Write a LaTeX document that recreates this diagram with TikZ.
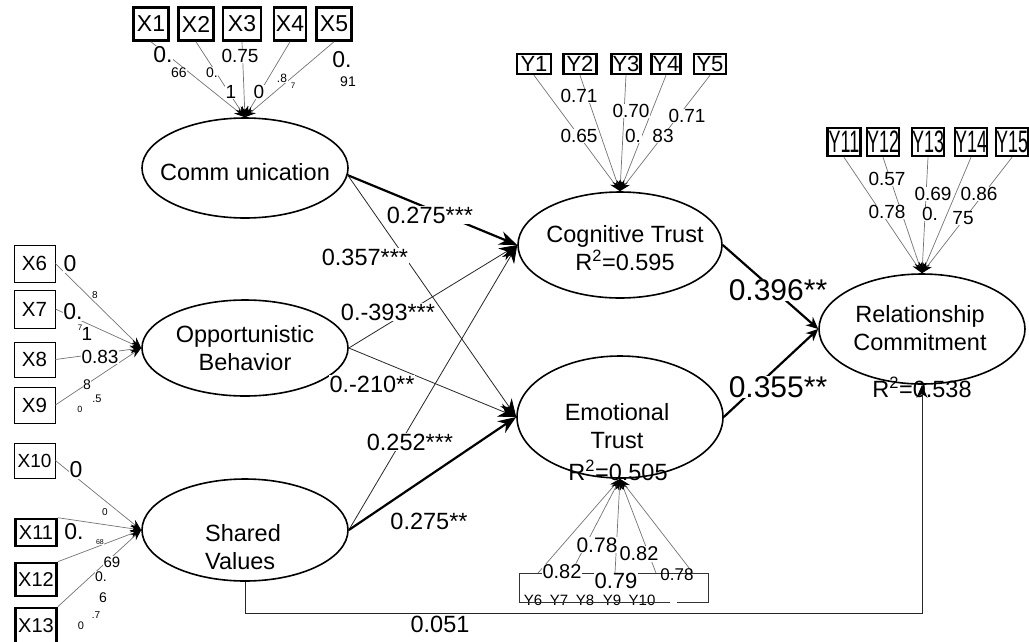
\documentclass[tikz,border=0pt]{standalone}
\usepackage{fontspec}
\usepackage{graphicx}
\setmainfont{Liberation Sans}
\usetikzlibrary{shapes.geometric,arrows.meta}

\tikzset{
  latent/.style={ellipse, draw, line width=1.6pt, inner sep=0pt},
  obs/.style={draw, line width=2.6pt, inner sep=0pt, font=\fontsize{23}{23}\selectfont},
  obsthin/.style={draw, line width=0.8pt, inner sep=0pt, minimum width=41, font=\fontsize{20.5}{20.5}\selectfont},
  txt/.style={font=\fontsize{23.5}{28}\selectfont, align=center, inner sep=0pt},
  lab/.style={font=\fontsize{#1}{#1}\selectfont, fill=white, inner sep=0.6pt},
  loadline/.style={draw=black!55, line width=0.7pt, -{Stealth[length=11pt,width=8pt,black]}},
  effect/.style={draw=black!85, line width=0.8pt, -{Stealth[length=18pt,width=14pt,black]}},
  effectb/.style={draw=black, line width=2.2pt, -{Stealth[length=18pt,width=14pt]}},
}

\begin{document}
\begin{tikzpicture}[x=1pt,y=-1pt]
  \useasboundingbox (0,0) rectangle (1029,641);
  % constructs
  \node[latent, minimum width=206, minimum height=100] (comm) at (245,168) {};
  \node[latent, minimum width=206, minimum height=96] (opp) at (245,348) {};
  \node[latent, minimum width=206, minimum height=102] (sv) at (245,530) {};
  \node[latent, minimum width=204, minimum height=106] (ct) at (620,245) {};
  \node[latent, minimum width=206, minimum height=122] (et) at (620,417) {};
  \node[latent, minimum width=206, minimum height=110] (rc) at (922,329) {};
  % construct names
  \node[txt] (commtxt) at (245,172) {Comm unication};
  \node[txt] (opptxt) at (245,348) {Opportunistic\\Behavior};
  \node[txt, align=left] (svtxt) at (243,547) {Shared\\Values};
  \node[txt] (cttxt) at (625,248) {Cognitive Trust\\R\textsuperscript{2}=0.595};
  \node[txt] (ettxt) at (617,426) {Emotional\\Trust};
  \node[txt] (etr2) at (618,470) {R\textsuperscript{2}=0.505};
  \node[txt] (rctxt) at (920,328) {Relationship\\Commitment};
  \node[txt] (rcr2) at (922,387) {R\textsuperscript{2}=0.538};

  % indicators
  \foreach \n/\x/\w in {X1/151/35,X2/196/35,X3/242/38,X4/290/32,X5/334/35}
    \node[obs, minimum width=\w, minimum height=33] (\n) at (\x,24) {\n};
  \foreach \n/\x/\w in {Y1/534/34,Y2/580/33,Y3/626/29,Y4/666/29,Y5/710/32}
    \node[obs, minimum width=\w, minimum height=20, font=\fontsize{22}{22}\selectfont] (\n) at (\x,64) {\n};
  \foreach \n/\x/\w in {Y11/844/33,Y12/883/31,Y13/928/26,Y14/971/32,Y15/1012/30}
    \node[obs, minimum width=\w, minimum height=28] (\n) at (\x,142)
      {\scalebox{0.58}[1]{\fontsize{31}{31}\selectfont\n}};
  \foreach \n/\y/\h in {X6/263.5/37,X7/309/38,X8/359.5/35,X9/405/36}
    \node[obsthin, minimum height=\h] (\n) at (34.5,\y) {\n};
  \node[obsthin, minimum height=35, font=\fontsize{19}{19}\selectfont] (X10) at (34.5,460.5) {X10};
  \foreach \n/\y/\h in {X11/532.5/27,X12/579.5/33,X13/626/36}
    \node[obs, minimum width=41, minimum height=\h, font=\fontsize{20}{20}\selectfont] (\n) at (36,\y) {\n};

  % Y6 to Y10 sit in one frame under Emotional Trust
  \foreach \n/\x in {Y6/533,Y7/559,Y8/585,Y9/612,Y10/642}
    \node[font=\fontsize{15}{15}\selectfont, inner sep=0pt] (\n) at (\x,600) {\n};
  \draw[black!80, line width=0.7pt] (670,602) -| (519,573) -| (708,602) -- (677,602);
  \foreach \n/\x in {6/538,7/571,8/615,9/656,10/693}
    \coordinate (c\n) at (\x,573);

  % loadings
  \foreach \n in {X1,X2,X3,X4,X5} \draw[loadline] (\n.south) -- (comm.north);
  \foreach \n in {Y1,Y2,Y3,Y4,Y5} \draw[loadline] (\n.south) -- (ct.north);
  \foreach \n in {Y11,Y12,Y13,Y14,Y15} \draw[loadline] (\n.south) -- (rc.north);
  \foreach \n in {X6,X7,X8,X9} \draw[loadline] (\n.east) -- (opp.west);
  \draw[loadline] (X10.east) -- (sv.west);
  \foreach \n in {X11,X12,X13} \draw[loadline] (\n.north east) -- (sv.west);
  \foreach \n in {6,...,10} \draw[loadline] (c\n) -- (et.south);

  % loading values
  \foreach \x/\y/\t/\s [count=\i] in {163/55/0./23, 179/73/66/14, 212/73/0./14,
      240/56/0.75/19, 231/92/1/19, 259/92/0/19, 282/78/.8/12, 293/86/7/8,
      342/60/0./23, 348/82/91/14}
    \node[lab=\s] (la\i) at (\x,\y) {\t};
  \foreach \x/\y/\t/\s [count=\i] in {579/96/0.71/19, 579/136/0.65/19,
      631/111/0.70/19, 633/136/0./19, 663/136/83/19, 687/116/0.71/19}
    \node[lab=\s] (lb\i) at (\x,\y) {\t};
  \foreach \x/\y/\t/\s [count=\i] in {887/179/0.57/19, 887/212/0.78/19,
      933/194/0.69/19, 979/194/0.86/19, 930/214/0./19, 963/218/75/19}
    \node[lab=\s] (lc\i) at (\x,\y) {\t};
  \foreach \x/\y/\t/\s [count=\i] in {70/264/0/23, 73/312/0./23, 100/357/0.83/19,
      95/295/8/10, 80/328/7/8, 87/334/1/19, 87/385/8/14, 97/399/.5/11, 80/409/0/9}
    \node[lab=\s] (ld\i) at (\x,\y) {\t};
  \foreach \x/\y/\t/\s [count=\i] in {76/470/0/23, 74/532/0./23, 105/512/0/10,
      100/542/68/7, 112/562/69/15, 101/577/0./14, 103/598/6/14, 96/615/.7/10,
      81/626/0/11}
    \node[lab=\s] (le\i) at (\x,\y) {\t};
  \foreach \x/\y/\t/\s [count=\i] in {597/545/0.78/21, 639/554/0.82/20,
      562/572/0.82/20, 616/581/0.79/22}
    \node[lab=\s] (lf\i) at (\x,\y) {\t};
  \node[font=\fontsize{17}{17}\selectfont, inner sep=0pt] (lf5) at (677,575) {0.78};

  % structural paths
  \draw[effectb] (comm.-4) -- (ct.west);
  \draw[effect] (comm.-4) -- (et.west);
  \draw[effect] (opp.east) -- (ct.west);
  \draw[effect] (opp.east) -- (et.west);
  \draw[effect] (sv.east) -- (ct.west);
  \draw[effectb] (sv.east) -- (et.west);
  \draw[effectb, -{Stealth[length=12pt,width=11pt]}] (ct.east) -- (rc.west);
  \draw[effectb, -{Stealth[length=12pt,width=11pt]}] (et.east) -- (rc.west);
  \draw[effect, -{Stealth[length=13pt,width=11pt,black]}] (sv.south) -- ++(0,32) -| (rc.south);

  % path values
  \node[lab=23.5] (p1) at (430,215) {0.275***};
  \node[lab=23.5] (p2) at (365,257) {0.357***};
  \node[lab=23.5] (p3) at (388,312) {0.-393***};
  \node[lab=23.5] (p4) at (372,384) {0.-210**};
  \node[lab=23.5] (p5) at (410,442) {0.252***};
  \node[lab=23.5] (p6) at (429,521) {0.275**};
  \node[lab=30] (p7) at (778,290) {0.396**};
  \node[lab=30] (p8) at (778,387) {0.355**};
  \node[lab=23.5] (p9) at (440,624) {0.051};
\end{tikzpicture}
\end{document}
